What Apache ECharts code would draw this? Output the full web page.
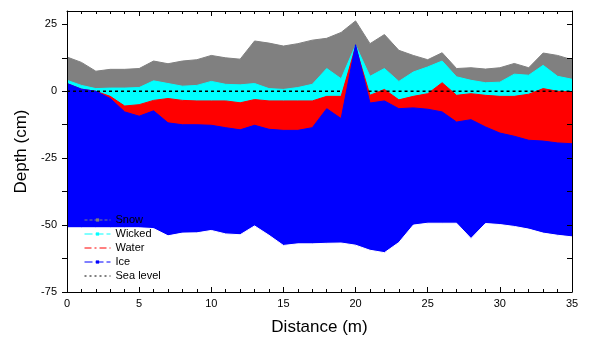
<!DOCTYPE html>
<html><head><meta charset="utf-8">
<script src="https://cdn.jsdelivr.net/npm/echarts@6/dist/echarts.min.js"></script>
<style>html,body{margin:0;padding:0;background:#fff}#c{width:600px;height:350px}</style>
</head><body><div id="c"></div>
<script>
// Distance along the transect (m)
const distance = [0,1,2,3,4,5,6,7,8,9,10,11,12,13,14,15,16,17,18,19,20,21,22,23,24,25,26,27,28,29,30,31,32,33,34,35];
// Surface heights (cm) of each layer
const snow = [12.8,10.8,7.5,8.2,8.2,8.5,11.3,10.3,11.3,11.8,13.4,12.5,12.0,18.8,18.0,16.9,17.8,19.1,19.8,22.0,26.3,17.8,21.2,15.3,13.4,11.8,14.4,8.5,8.8,8.3,8.8,10.4,8.8,14.3,13.4,11.8];
const wicked = [4.1,2.2,1.0,1.2,1.2,1.4,3.9,2.9,1.9,2.2,3.7,2.6,2.4,2.9,1.0,0.7,1.4,2.6,8.5,4.7,17.2,5.6,8.5,3.7,7.2,9.1,11.3,5.4,4.1,3.2,3.4,6.4,6.0,9.7,5.6,4.5];
const water = [2.9,0.8,0.0,-1.9,-5.5,-5.0,-3.4,-2.7,-3.4,-3.6,-3.6,-3.6,-4.3,-3.1,-3.6,-3.6,-3.6,-3.6,-1.9,-1.9,16.6,-1.5,0.7,-3.2,-1.9,-0.9,3.2,-1.5,-0.9,-1.5,-1.9,-1.9,-1.1,1.0,0.0,-0.2];
const iceTop = [2.9,0.8,0.0,-2.7,-7.7,-9.3,-7.3,-11.8,-12.5,-12.5,-12.7,-13.6,-14.4,-12.7,-14.2,-14.6,-14.6,-13.6,-6.5,-10.2,17.4,-4.4,-3.6,-6.5,-6.2,-6.7,-7.7,-11.5,-10.6,-13.3,-15.6,-16.8,-18.3,-18.6,-19.3,-19.6];
const iceBottom = [-51.0,-51.0,-51.0,-51.0,-51.0,-51.0,-51.3,-54.0,-53.0,-52.9,-52.0,-53.3,-53.6,-50.3,-53.8,-57.6,-57.0,-57.0,-56.8,-56.7,-57.5,-59.4,-60.3,-56.5,-50.0,-49.3,-49.3,-49.3,-55.0,-49.4,-49.8,-50.5,-51.5,-53.0,-53.8,-54.4];
// Sea level (visible segments)
const seaLevelX = [0,19.1,20,20.9,35];
const seaLevelY = [0,0,null,0,0];
// Tick labels
const xTicks = [0,5,10,15,20,25,30,35];
const yTicks = [-75,-50,-25,0,25];
const yTickMarks = [-75,-62.5,-50,-37.5,-25,-12.5,0,12.5,25];

const FONT = 'Arial, "Liberation Sans", sans-serif';
const pairs = ys => distance.map((x, i) => [x, ys[i]]);

function layer(name, ys, color, z, symbol) {
  return {
    name, type: 'line', data: pairs(ys), z,
    symbol: symbol || 'none', showSymbol: false, symbolSize: 3,
    lineStyle: { color, width: 1 }, itemStyle: { color },
    areaStyle: { color, opacity: 1, origin: 'start' },
    silent: true, animation: false
  };
}

const chart = echarts.init(document.getElementById('c'), null, { renderer: 'canvas' });
const xCommon = {
  type: 'value', min: xTicks[0], max: xTicks[xTicks.length - 1], interval: 5,
  axisLine: { show: true, onZero: false, lineStyle: { color: '#000', width: 1 } },
  axisTick: { show: true, inside: true, length: 5, lineStyle: { color: '#000' } },
  minorTick: { show: true, splitNumber: 5, length: 3, lineStyle: { color: '#000' } },
  splitLine: { show: false }, z: 30
};
chart.setOption({
  backgroundColor: '#fff',
  animation: false,
  grid: { left: 67, right: 28, top: 11, bottom: 58, containLabel: false },
  legend: {
    orient: 'vertical', left: 79, top: 209, itemWidth: 26, itemHeight: 4, itemGap: 2, z: 20,
    selectedMode: false,
    textStyle: { fontSize: 11, color: '#000', fontFamily: FONT, lineHeight: 12 },
    data: [
      { name: 'Snow', lineStyle: { type: [3, 2], width: 1, color: '#808080' }, itemStyle: { color: '#808080' } },
      { name: 'Wicked', lineStyle: { type: [8, 3], width: 1, color: '#00ffff' }, itemStyle: { color: '#00ffff' } },
      { name: 'Water', lineStyle: { type: [7, 3, 2, 3], width: 1, color: '#ff0000' }, itemStyle: { color: 'rgba(0,0,0,0)', borderWidth: 0 } },
      { name: 'Ice', lineStyle: { type: [8, 3], width: 1, color: '#0000ff' }, itemStyle: { color: '#0000ff' } },
      { name: 'Sea level', lineStyle: { type: [2, 3], width: 1, color: '#000' }, itemStyle: { color: 'rgba(0,0,0,0)', borderWidth: 0 } }
    ]
  },
  xAxis: [
    Object.assign({}, xCommon, {
      position: 'bottom',
      axisLabel: { show: true, color: '#000', fontSize: 11, fontFamily: FONT, margin: 6 },
      name: 'Distance (m)', nameLocation: 'middle', nameGap: 27,
      nameTextStyle: { fontSize: 17, color: '#000', fontFamily: FONT }
    }),
    Object.assign({}, xCommon, { position: 'top', axisLabel: { show: false } })
  ],
  yAxis: [
    {
      type: 'value', min: -75, max: 30, position: 'left',
      axisLine: { show: true, onZero: false, lineStyle: { color: '#000', width: 1 } },
      axisTick: { show: true, inside: false, length: 5, customValues: yTickMarks, lineStyle: { color: '#000' } },
      axisLabel: { show: true, customValues: yTicks, color: '#000', fontSize: 11, fontFamily: FONT, margin: 10 },
      splitLine: { show: false },
      name: 'Depth (cm)', nameLocation: 'middle', nameGap: 37,
      nameTextStyle: { fontSize: 17, color: '#000', fontFamily: FONT }, z: 30
    },
    {
      type: 'value', min: -75, max: 30, position: 'right',
      axisLine: { show: true, onZero: false, lineStyle: { color: '#000', width: 1 } },
      axisTick: { show: true, inside: true, length: 5, customValues: yTickMarks, lineStyle: { color: '#000' } },
      axisLabel: { show: false }, splitLine: { show: false }, z: 30
    }
  ],
  series: [
    layer('Snow', snow, '#808080', 2, 'rect'),
    layer('Wicked', wicked, '#00ffff', 3, 'rect'),
    layer('Water', water, '#ff0000', 4),
    layer('Ice', iceTop, '#0000ff', 5, 'rect'),
    layer('Ice base', iceBottom, '#ffffff', 6),
    {
      name: 'Sea level', type: 'line', z: 7, symbol: 'none', showSymbol: false,
      data: seaLevelX.map((x, i) => [x, seaLevelY[i] === null ? '-' : seaLevelY[i]]),
      lineStyle: { color: '#000', width: 1.5, type: [3, 3] }, itemStyle: { color: '#000' },
      silent: true, animation: false
    }
  ]
});
</script></body></html>
